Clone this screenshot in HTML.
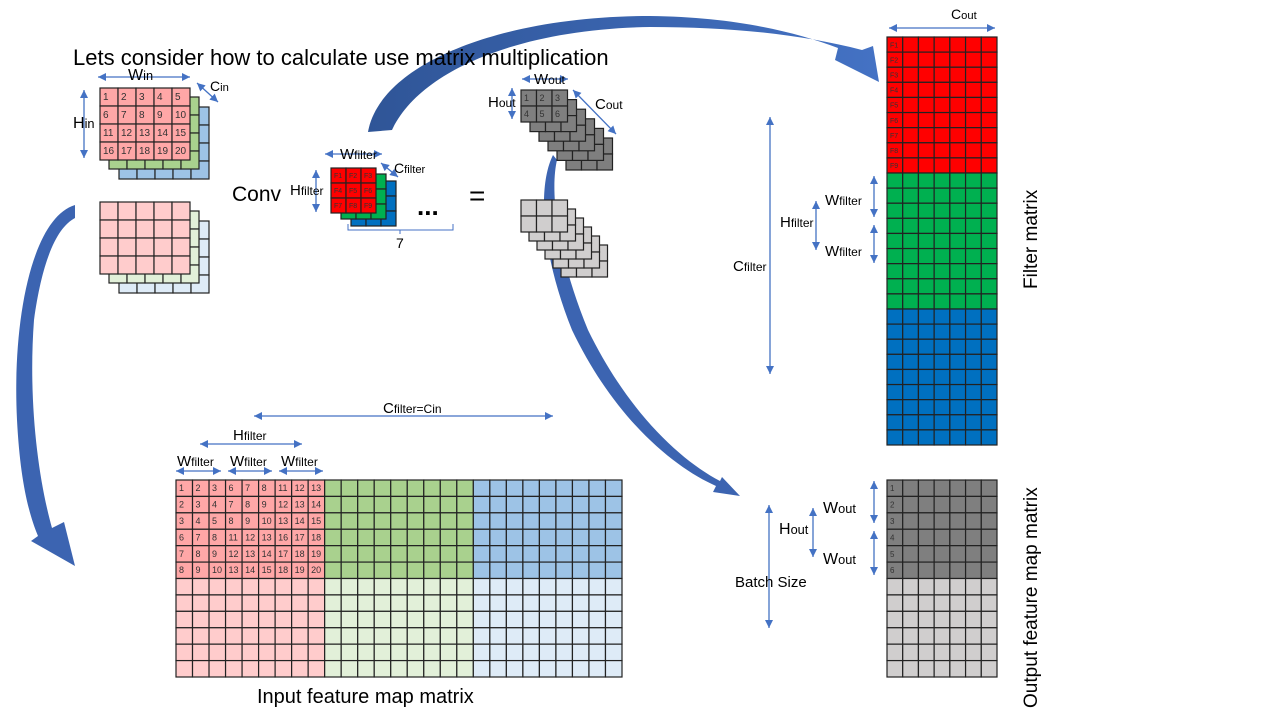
<!DOCTYPE html>
<html><head><meta charset="utf-8"><style>
html,body{margin:0;padding:0;background:#fff;width:1280px;height:720px;overflow:hidden}
svg{display:block;font-family:"Liberation Sans",sans-serif}
</style></head><body>
<svg id="s" width="1280" height="720" viewBox="0 0 1280 720" xmlns="http://www.w3.org/2000/svg">
<defs>
<linearGradient id="ag" x1="0" y1="0" x2="1" y2="0"><stop offset="0" stop-color="#2f5597"/><stop offset="1" stop-color="#4472c4"/></linearGradient>
</defs>
<g id="arrows-big">
<path fill="url(#ag)" d="M368,132 C380,64 500,16 650,16 C730,17 790,30 838,48 L835,60 L879,82 L873,46 L862,50 C800,34 730,27 650,27 C520,29 420,70 392,130 Z"/>
<path fill="#3c64b1" d="M75,205 C32,218 12,320 17,420 C20,478 28,512 38,536 L31,541 L75,566 L64,522 L52,528 C38,478 28,400 34,320 C42,262 56,228 75,218 Z"/>
<path fill="#3c64b1" d="M553,155 C538,185 540,250 572,330 C615,420 675,468 716,486 L713,492 L740,496 L722,477 L720,481 C680,460 628,412 588,330 C556,252 550,190 557,160 Z"/>
</g>
<g id="g"></g>
<text x="73" y="65" font-size="22" fill="#000">Lets consider how to calculate use matrix multiplication</text>
<text x="232" y="201" font-size="21">Conv</text>
<text x="417" y="215" font-size="26" font-weight="bold">...</text>
<text x="469" y="205" font-size="28">=</text>
<text x="396" y="248" font-size="14">7</text>
<path d="M348,224 V230 H453 V224 M400,230 V234" stroke="#4472c4" fill="none"/>
<text x="257" y="703" font-size="20">Input feature map matrix</text>
<text transform="translate(1037,289) rotate(-90)" font-size="19">Filter matrix</text>
<text transform="translate(1037,708) rotate(-90)" font-size="19">Output feature map matrix</text>
<text x="735" y="587" font-size="15">Batch Size</text>
</svg>
<script>
const inputLabels=[[1,2,3,6,7,8,11,12,13],[2,3,4,7,8,9,12,13,14],[3,4,5,8,9,10,13,14,15],[6,7,8,11,12,13,16,17,18],[7,8,9,12,13,14,17,18,19],[8,9,10,13,14,15,18,19,20]];
const filterLabels=["F1","F2","F3","F4","F5","F6","F7","F8","F9"];
const outLabels=["1","2","3","4","5","6"];
const G=document.getElementById('g');
const NS='http://www.w3.org/2000/svg';
function el(t,a,p){const e=document.createElementNS(NS,t);for(const k in a)e.setAttribute(k,a[k]);(p||G).appendChild(e);return e;}
function grid(name,x,y,cols,rows,cw,ch,fill,labels,fs){
  const g=el('g',{});
  
  
  for(let r=0;r<rows;r++)for(let c=0;c<cols;c++){
    const f=typeof fill==='function'?fill(r,c):fill;
    el('rect',{x:x+c*cw,y:y+r*ch,width:cw,height:ch,fill:f,stroke:'#222','stroke-width':1.2},g);
    const lab=labels?labels(r,c):null;
    if(lab!==null&&lab!==undefined){
      const t=el('text',{x:x+c*cw+3,y:y+r*ch+ch*0.68,'font-size':fs||9,fill:'#333'},g);t.textContent=lab;
    }
  }
  return g;
}
function dArrow(name,x1,y1,x2,y2){
  const g=el('g',{});
  
  
  el('line',{x1,y1,x2,y2,stroke:'#4472c4','stroke-width':1.3},g);
  const a=Math.atan2(y2-y1,x2-x1),L=8,W=4;
  for(const [px,py,s] of [[x2,y2,1],[x1,y1,-1]]){
    const ux=Math.cos(a)*s,uy=Math.sin(a)*s;
    el('polygon',{points:`${px},${py} ${px-ux*L-uy*W},${py-uy*L+ux*W} ${px-ux*L+uy*W},${py-uy*L-ux*W}`,fill:'#4472c4'},g);
  }
}
function lbl(name,x,y,big,small,bs){
  const t=el('text',{x,y,'font-size':bs||16});
  
  
  const a=el('tspan',{},t);a.textContent=big;
  const b=el('tspan',{'font-size':(bs||16)*0.8},t);b.textContent=small;
}
grid('input-channel-blue',119,107,5,4,18,18,'#9dc3e6');
grid('input-channel-green',109,97,5,4,18,18,'#a9d18e');
grid('input-channel-red',100,88,5,4,18,18,'#ffa7a7',(r,c)=>r*5+c+1,10);
grid('input2-channel-blue',119,221,5,4,18,18,'#deebf7');
grid('input2-channel-green',109,211,5,4,18,18,'#e2f0d9');
grid('input2-channel-red',100,202,5,4,18,18,'#ffcccc');
grid('filter-blue',351,181,3,3,15,15,'#0070c0');
grid('filter-green',341,174,3,3,15,15,'#00b050');
grid('filter-red',331,168,3,3,15,15,'#ff0000',(r,c)=>filterLabels[r*3+c],7);
for(let i=5;i>=0;i--){
  grid('output-dark-layer',521+i*9,90+i*9.6,3,2,15.5,16,'#7f7f7f',i===0?(r,c)=>outLabels[r*3+c]:null,9);
}
for(let i=5;i>=0;i--){
  grid('output-light-layer',521+i*8,200+i*9,3,2,15.5,16,'#d0cece');
}
const icw=(622-176)/27, ich=(677-480)/12;
grid('input-feature-matrix',176,480,27,12,icw,ich,(r,c)=>{const ch=Math.floor(c/9),top=r<6;return [['#ffa7a7','#ffcccc'],['#a9d18e','#e2f0d9'],['#9dc3e6','#deebf7']][ch][top?0:1];},(r,c)=>(r<6&&c<9)?inputLabels[r][c]:null,9);
const fcw=(997-887)/7, fch=(445-37)/27;
grid('filter-matrix',887,37,7,27,fcw,fch,(r,c)=>r<9?'#ff0000':r<18?'#00b050':'#0070c0',(r,c)=>(r<9&&c===0)?filterLabels[r]:null,7);
const ocw=(997-887)/7, och=(677-480)/12;
grid('output-feature-matrix',887,480,7,12,ocw,och,(r,c)=>r<6?'#7f7f7f':'#d0cece',(r,c)=>(r<6&&c===0)?outLabels[r]:null,8);
dArrow('win-arrow',98,77,190,77); lbl('win-label',128,80,'W','in',16);
dArrow('hin-arrow',84,90,84,158); lbl('hin-label',73,128,'H','in',16);
dArrow('cin-arrow',197,83,218,102); lbl('cin-label',210,91,'C','in',14);
dArrow('wfilter-top-arrow',325,154,382,154); lbl('wfilter-top-label',340,159,'W','filter',15);
dArrow('hfilter-top-arrow',316,170,316,212); lbl('hfilter-top-label',290,195,'H','filter',15);
dArrow('cfilter-top-arrow',381,163,398,177); lbl('cfilter-top-label',394,173,'C','filter',14);
dArrow('wout-top-arrow',522,79,568,79); lbl('wout-top-label',534,84,'W','out',15);
dArrow('hout-top-arrow',512,88,512,119); lbl('hout-top-label',488,107,'H','out',15);
dArrow('cout-top-arrow',573,90,616,134); lbl('cout-top-label',595,109,'C','out',15);
dArrow('cfilter-cin-arrow',254,416,553,416); lbl('cfilter-cin-label',383,413,'C','filter=Cin',15);
dArrow('hfilter-input-arrow',200,444,302,444); lbl('hfilter-input-label',233,440,'H','filter',15);
dArrow('wfilter-input-arrow-1',176,471,221,471); lbl('wfilter-input-label-1',177,466,'W','filter',15);
dArrow('wfilter-input-arrow-2',228,471,272,471); lbl('wfilter-input-label-2',230,466,'W','filter',15);
dArrow('wfilter-input-arrow-3',279,471,323,471); lbl('wfilter-input-label-3',281,466,'W','filter',15);
dArrow('cout-matrix-arrow',889,28,995,28); lbl('cout-matrix-label',951,19,'C','out',14);
dArrow('cfilter-matrix-arrow',770,117,770,374); lbl('cfilter-matrix-label',733,271,'C','filter',15);
dArrow('hfilter-matrix-arrow',816,201,816,250); lbl('hfilter-matrix-label',780,227,'H','filter',15);
dArrow('wfilter-matrix-arrow-1',874,176,874,217); lbl('wfilter-matrix-label-1',825,205,'W','filter',15);
dArrow('wfilter-matrix-arrow-2',874,225,874,263); lbl('wfilter-matrix-label-2',825,256,'W','filter',15);
dArrow('batch-size-arrow',769,505,769,628);
dArrow('hout-matrix-arrow',813,508,813,557); lbl('hout-matrix-label',779,534,'H','out',16);
dArrow('wout-matrix-arrow-1',874,481,874,523); lbl('wout-matrix-label-1',823,513,'W','out',16);
dArrow('wout-matrix-arrow-2',874,531,874,575); lbl('wout-matrix-label-2',823,564,'W','out',16);
</script>
</body></html>
